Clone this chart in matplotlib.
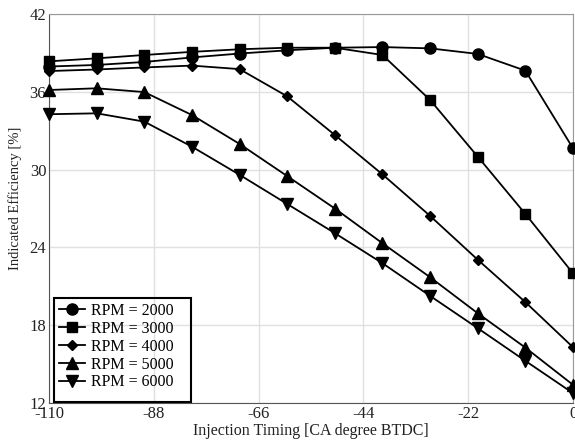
import matplotlib
matplotlib.use("Agg")
import matplotlib.pyplot as plt
from matplotlib.patches import Rectangle

plt.rcParams['font.family'] = ['Liberation Serif', 'DejaVu Serif']

timing = [-110, -100, -90, -80, -70, -60, -50, -40, -30, -20, -10, 0]
rpm2000 = [37.95, 38.07, 38.3, 38.65, 38.95, 39.2, 39.4, 39.45, 39.35, 38.92, 37.63, 31.64]
rpm3000 = [38.35, 38.58, 38.84, 39.08, 39.28, 39.4, 39.4, 38.84, 35.37, 31.0, 26.58, 22.0]
rpm4000 = [37.6, 37.72, 37.88, 38.02, 37.75, 35.65, 32.67, 29.63, 26.43, 23.05, 19.78, 16.3]
rpm5000 = [36.14, 36.27, 35.98, 34.21, 31.98, 29.5, 27.0, 24.32, 21.7, 18.92, 16.27, 13.4]
rpm6000 = [34.27, 34.34, 33.7, 31.77, 29.6, 27.35, 25.1, 22.78, 20.26, 17.77, 15.25, 12.76]
labels = ['RPM = 2000', 'RPM = 3000', 'RPM = 4000', 'RPM = 5000', 'RPM = 6000']
xticks = [-110, -88, -66, -44, -22, 0]
yticks = [12, 18, 24, 30, 36, 42]

series = [rpm2000, rpm3000, rpm4000, rpm5000, rpm6000]
markers = ['o', 's', 'D', '^', 'v']
msizes = [8, 7.5, 5, 8, 8]

fig = plt.figure(figsize=(5.75, 4.45), dpi=100)
ax = fig.add_axes([49/575, 1-403/445, 524/575, 389/445])

for ys, lab, m, ms in zip(series, labels, markers, msizes):
    ax.plot(timing, ys, color='black', lw=1.3, marker=m, ms=ms, label=lab,
            clip_on=False, zorder=3)

ax.set_xlim(-110, 0)
ax.set_ylim(12, 42)
ax.set_xticks(xticks)
ax.set_yticks(yticks)
ax.set_xticklabels([str(t) for t in xticks])
ax.grid(True, color='#e0e0e0', lw=1.0)
ax.set_axisbelow(True)
ax.tick_params(length=0, labelsize=12, pad=2, colors='#222222')
for s in ['top', 'right']:
    ax.spines[s].set_color('#999999')
for s in ['left', 'bottom']:
    ax.spines[s].set_color('#555555')
ax.set_xlabel('Injection Timing [CA degree BTDC]', fontsize=11.5, labelpad=1, color='#222222')
ax.set_ylabel('Indicated Efficiency [%]', fontsize=10.5, labelpad=2, color='#222222')
ax.yaxis.set_label_coords(-0.052, 0.527)

leg = ax.legend(loc='upper left', bbox_to_anchor=(0.01, 0.27), frameon=False,
                fontsize=11.5, handlelength=1.6, handletextpad=0.4,
                labelspacing=0.12, borderaxespad=0, borderpad=0.3)
ax.add_patch(Rectangle((0.01, 0.003), 0.261, 0.267, transform=ax.transAxes,
                       fill=False, edgecolor='black', lw=1.5, zorder=4))

fig.savefig('out.png', dpi=100)
